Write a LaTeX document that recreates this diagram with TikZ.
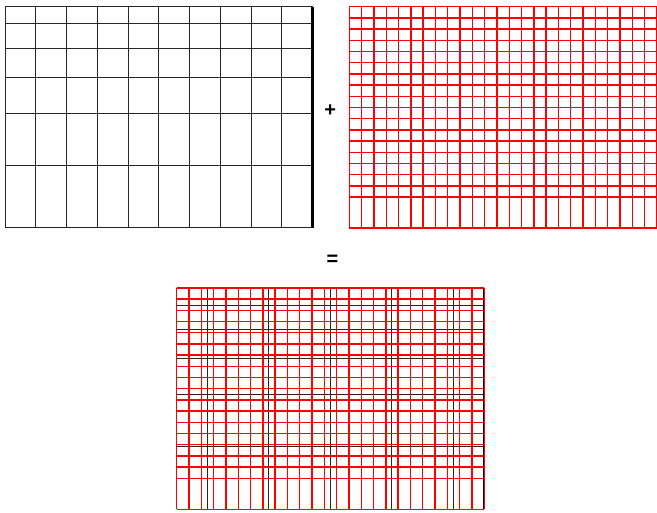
\documentclass[tikz,border=0pt]{standalone}
\usepackage{fontspec}
\setmainfont{Liberation Sans}
\newcommand{\myblackgrid}{%
  \foreach \yy in {0,17.3,41.6,71,106.6,159,221.3}
    {\draw[blk] (0,\yy) -- (307.5,\yy);}
  \foreach \kk in {0,...,9}
    {\draw[blk] ({\kk*30.75},0) -- ({\kk*30.75},221.3);}
  \draw[blkedge] (307.5,0) -- (307.5,221.3);
}
\newcommand{\myredgrid}{%
  \foreach \jj in {0,...,17}
    {\draw[redl] (0,{\jj*11.2}) -- (307.5,{\jj*11.2});}
  \draw[redl] (0,221.3) -- (307.5,221.3);
  \foreach \ii in {0,...,25}
    {\draw[redl] ({\ii*12.3},0) -- ({\ii*12.3},221.3);}
}
\begin{document}
\begin{tikzpicture}[x=1pt,y=-1pt,
  blk/.style={line width=1pt, black!85},
  blkedge/.style={line width=2.5pt, black},
  redl/.style={line width=1.4pt, red},
  sym/.style={font=\fontsize{20}{20}\selectfont\bfseries, inner sep=0pt}]
\useasboundingbox (0,0) rectangle (657,513);
\clip (0,0) rectangle (657,513);
% top left: black grid
\begin{scope}[shift={(5,6.7)}]
  \myblackgrid
\end{scope}
% top right: red grid
\begin{scope}[shift={(349.3,6.7)}]
  \myredgrid
\end{scope}
% bottom: overlay of both
\begin{scope}[shift={(176.7,288)}]
  \myblackgrid
  \myredgrid
\end{scope}
% symbols
\node[sym] (plus) at (330.3,111) {+};
\node[sym] (eq) at (332.5,260) {=};
\end{tikzpicture}
\end{document}
